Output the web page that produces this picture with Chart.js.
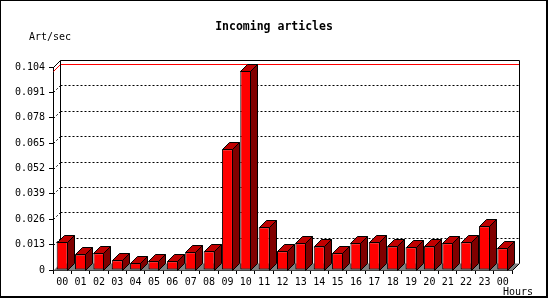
<!DOCTYPE html>
<html>
<head>
<meta charset="utf-8">
<script src="https://cdn.jsdelivr.net/npm/chart.js@4/dist/chart.umd.min.js"></script>
<style>
  html, body { margin: 0; padding: 0; background: #fff; }
  canvas { display: block; }
</style>
</head>
<body>
<canvas id="myChart" width="550" height="300"></canvas>
<script>
// Data
const hours = ['00', '01', '02', '03', '04', '05', '06', '07', '08', '09', '10', '11',
               '12', '13', '14', '15', '16', '17', '18', '19', '20', '21', '22', '23', '00'];
const artPerSec = [0.0145, 0.0080, 0.0086, 0.0050, 0.0034, 0.0045, 0.0045, 0.0091, 0.0096, 0.0618,
                   0.1021, 0.0219, 0.0096, 0.0137, 0.0121, 0.0086, 0.0137, 0.0142, 0.0121, 0.0116,
                   0.0121, 0.0137, 0.0142, 0.0224, 0.0111];
const yTicks = [0, 0.013, 0.026, 0.039, 0.052, 0.065, 0.078, 0.091, 0.104];

const chartTitle = 'Incoming articles';
const yAxisTitle = 'Art/sec';
const xAxisTitle = 'Hours';

const DEPTH = 7;
const mono = '"DejaVu Sans Mono", monospace';

function line(ctx, pts) {
    ctx.beginPath();
    ctx.moveTo(pts[0][0], pts[0][1]);
    for (let i = 1; i < pts.length; i++) ctx.lineTo(pts[i][0], pts[i][1]);
    ctx.stroke();
}

// back wall, floor, grid and max line behind the bars
const wallPlugin = {
    id: 'wall',
    beforeDatasetsDraw(chart) {
        const ctx = chart.ctx;
        const a = chart.chartArea;
        const yScale = chart.scales.y;
        const L = Math.round(a.left) + 0.5, R = Math.round(a.right) + 0.5;
        const T = Math.round(a.top) + 0.5, B = Math.round(a.bottom) + 0.5;
        const D = DEPTH;
        ctx.save();
        ctx.lineWidth = 1;

        // floor
        ctx.fillStyle = '#808080';
        ctx.beginPath();
        ctx.moveTo(L, B); ctx.lineTo(L + D, B - D); ctx.lineTo(R + D, B - D); ctx.lineTo(R, B);
        ctx.closePath();
        ctx.fill();

        // dotted grid on back wall and left wall
        ctx.strokeStyle = '#000';
        ctx.setLineDash([2, 2]);
        yTicks.slice(1, -1).forEach(v => {
            const y = Math.round(yScale.getPixelForValue(v)) + 0.5;
            line(ctx, [[L + D, y - D], [R + D, y - D]]);
            line(ctx, [[L, y], [L + D, y - D]]);
        });
        ctx.setLineDash([]);

        // max value line
        const yMax = Math.round(yScale.getPixelForValue(Math.max(...artPerSec))) + 0.5;
        ctx.strokeStyle = '#ff0000';
        line(ctx, [[L, yMax], [L + D, yMax - D], [R + D, yMax - D]]);

        // wall outline
        ctx.strokeStyle = '#000';
        line(ctx, [[L, T], [L + D, T - D], [R + D, T - D], [R + D, B - D], [R, B]]);
        line(ctx, [[L + D, T - D], [L + D, B - D]]);
        ctx.restore();
    },
    // top and side faces of every bar
    afterDatasetsDraw(chart) {
        const ctx = chart.ctx;
        const D = DEPTH;
        ctx.save();
        ctx.lineWidth = 1;
        ctx.strokeStyle = '#000';
        chart.getDatasetMeta(0).data.forEach(bar => {
            const p = bar.getProps(['x', 'y', 'base', 'width'], true);
            const l = Math.round(p.x - p.width / 2) + 0.5;
            const r = Math.round(p.x + p.width / 2) - 0.5;
            const t = Math.round(p.y) + 0.5;
            const b = Math.round(p.base) + 0.5;
            ctx.fillStyle = '#c00000';
            ctx.beginPath();
            ctx.moveTo(l, t); ctx.lineTo(l + D, t - D); ctx.lineTo(r + D, t - D); ctx.lineTo(r, t);
            ctx.closePath();
            ctx.fill(); ctx.stroke();
            ctx.fillStyle = '#800000';
            ctx.beginPath();
            ctx.moveTo(r, t); ctx.lineTo(r + D, t - D); ctx.lineTo(r + D, b - D); ctx.lineTo(r, b);
            ctx.closePath();
            ctx.fill(); ctx.stroke();
        });
        ctx.restore();
    },
    afterDraw(chart) {
        const ctx = chart.ctx;
        ctx.save();
        ctx.fillStyle = '#000';
        ctx.textBaseline = 'middle';
        ctx.textAlign = 'center';
        ctx.font = 'bold 11.5px ' + mono;
        ctx.fillText(chartTitle, 274, 27);
        ctx.textAlign = 'left';
        ctx.font = '10px ' + mono;
        ctx.fillText(yAxisTitle, 29, 37);
        ctx.fillText(xAxisTitle, 503, 292);
        // image frame
        ctx.strokeStyle = '#000';
        ctx.lineWidth = 2;
        ctx.strokeRect(0, 0, 547, 297);
        ctx.restore();
    }
};

const ctx = document.getElementById('myChart').getContext('2d');
const myChart = new Chart(ctx, {
    type: 'bar',
    data: {
        labels: hours,
        datasets: [{
            label: yAxisTitle,
            data: artPerSec,
            backgroundColor: '#ff0000',
            borderColor: '#000',
            borderWidth: 1,
            borderSkipped: false,
            barPercentage: 0.6,
            categoryPercentage: 1
        }]
    },
    options: {
        responsive: false,
        animation: false,
        devicePixelRatio: 1,
        layout: { padding: { left: 0, top: 67, right: 38, bottom: 0 } },
        plugins: {
            legend: { display: false },
            title: { display: false },
            tooltip: { enabled: false }
        },
        scales: {
            x: {
                offset: true,
                grid: { offset: true, drawOnChartArea: false, tickLength: 4, color: '#000' },
                border: { color: '#000' },
                ticks: {
                    color: '#000', font: { family: mono, size: 10 },
                    maxRotation: 0, autoSkip: false, padding: 2
                },
                afterFit(scale) { scale.height = 30; }
            },
            y: {
                min: 0,
                max: 0.104,
                grid: { drawOnChartArea: false, tickLength: 4, color: '#000' },
                border: { color: '#000' },
                ticks: {
                    color: '#000', font: { family: mono, size: 10 }, padding: 4,
                    callback: v => v === 0 ? '0' : v.toFixed(3)
                },
                afterBuildTicks(scale) { scale.ticks = yTicks.map(v => ({ value: v })); },
                afterFit(scale) { scale.width = 53; }
            }
        }
    },
    plugins: [wallPlugin]
});
</script>
</body>
</html>
